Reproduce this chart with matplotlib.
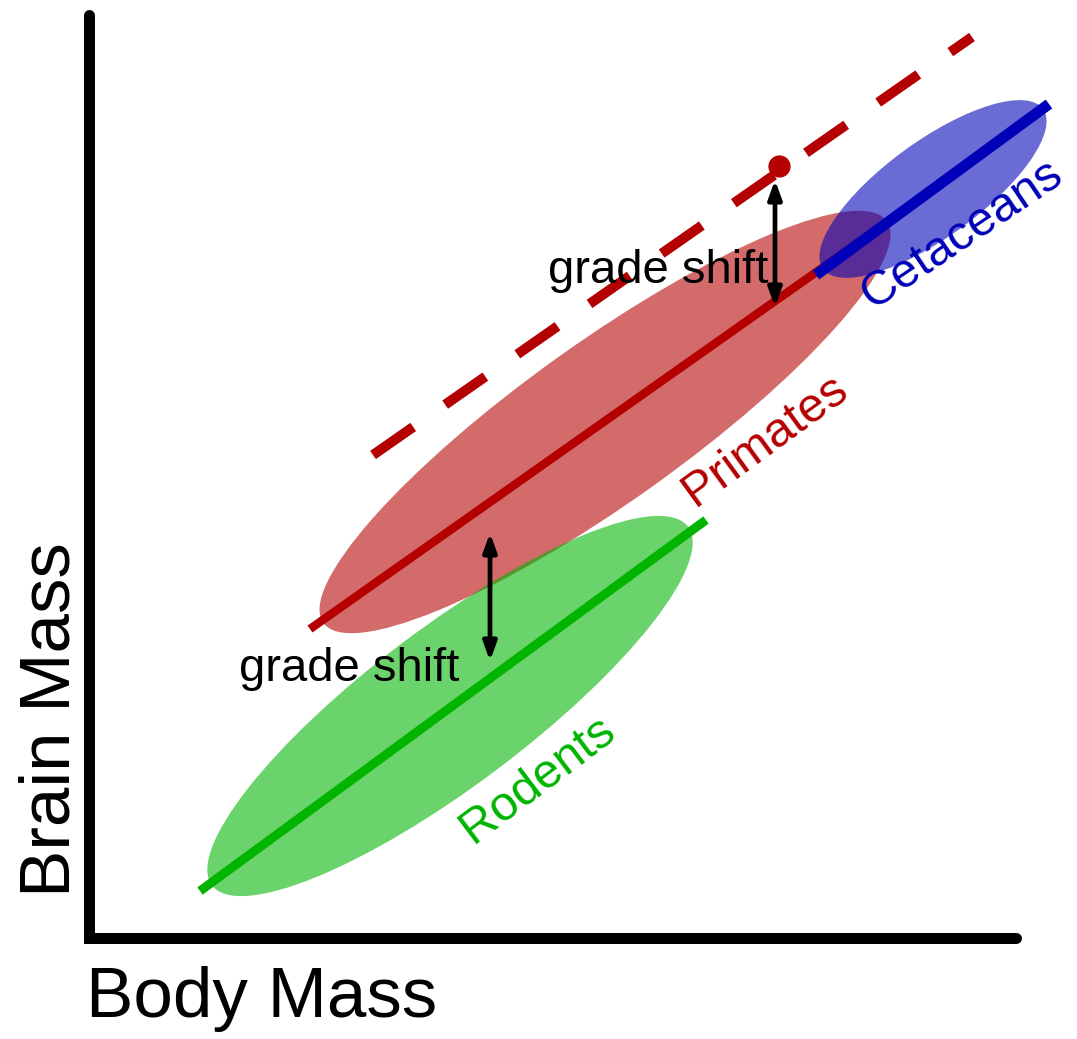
"""Schematic brain-mass vs body-mass allometry with grade shifts."""

import numpy as np
import matplotlib
matplotlib.use("Agg")
import matplotlib.pyplot as plt
from matplotlib.patches import Ellipse, FancyArrowPatch

plt.rcParams["font.family"] = ["Liberation Sans", "DejaVu Sans"]

# log body mass / log brain mass, arbitrary units (origin at axis corner)
GROUPS = ["Rodents", "Primates", "Cetaceans"]
COLORS = ["#00b400", "#b40000", "#0000b8"]

# regression line end points
FIT_X0 = [1.11, 2.21, 7.27]
FIT_X1 = [6.17, 8.11, 9.60]
FIT_Y0 = [0.465, 3.085, 6.625]
FIT_Y1 = [4.175, 7.245, 8.335]

# data clouds: centre, length, thickness, tilt (deg)
CLOUD_X = [3.61, 5.16, 8.44]
CLOUD_Y = [2.315, 5.155, 7.485]
CLOUD_LEN = [5.96, 6.92, 2.72]
CLOUD_THK = [1.58, 1.60, 0.96]
CLOUD_ANG = [37.0, 35.5, 36.0]

# group labels
LABEL_X = [4.485, 6.76, 8.73]
LABEL_Y = [1.575, 4.975, 7.025]
LABEL_ROT = [37, 36, 34]

# primate line extrapolated, and expected value at whale size
EXTRAP_X = [2.84, 8.83]
EXTRAP_Y = [4.825, 9.005]
EXPECT_X = 6.90
EXPECT_Y = 7.715

# grade shift arrows
SHIFT_X = [6.86, 4.01]
SHIFT_LO = [6.305, 2.765]
SHIFT_HI = [7.575, 4.045]
SHIFT_TXT_X = [4.59, 1.50]
SHIFT_TXT_Y = [6.545, 2.565]

W, H = 1077, 1039
fig = plt.figure(figsize=(W / 100, H / 100), dpi=100)
ax = fig.add_axes([0, 0, 1, 1])
ax.set_xlim(-0.89, (W - 89) / 100)
ax.set_ylim((937.5 - H) / 100, 9.375)
ax.axis("off")

# axes frame
ax.plot([0, 0, 9.265], [9.22, 0, 0], color="black", lw=7.9,
        solid_joinstyle="miter", solid_capstyle="round", zorder=8)

lw_fit = [6.5, 6.1, 7.9]
z_cloud = [2, 1, 4]
z_line = [3, 3, 5]
for i, g in enumerate(GROUPS):
    ax.add_patch(Ellipse((CLOUD_X[i], CLOUD_Y[i]), CLOUD_LEN[i], CLOUD_THK[i],
                         angle=CLOUD_ANG[i], facecolor=COLORS[i], alpha=0.58,
                         edgecolor="none", zorder=z_cloud[i]))
    ax.plot([FIT_X0[i], FIT_X1[i]], [FIT_Y0[i], FIT_Y1[i]], color=COLORS[i],
            lw=lw_fit[i], solid_capstyle="butt", zorder=z_line[i])
    ax.text(LABEL_X[i], LABEL_Y[i], g, color=COLORS[i], fontsize=35,
            rotation=LABEL_ROT[i], ha="center", va="center",
            rotation_mode="anchor", zorder=9)

# extrapolated primate line
ax.plot(EXTRAP_X, EXTRAP_Y, color=COLORS[1], lw=7.2,
        linestyle=(0, (4.9, 3.9)), dash_capstyle="butt", zorder=3)
ax.plot(EXPECT_X, EXPECT_Y, "o", color=COLORS[1], ms=16, mec="none", zorder=5)

for i in range(2):
    arr = FancyArrowPatch((SHIFT_X[i], SHIFT_LO[i]), (SHIFT_X[i], SHIFT_HI[i]),
                          arrowstyle="<|-|>,head_length=11,head_width=4",
                          mutation_scale=1, color="black", lw=3.4,
                          shrinkA=0, shrinkB=0, zorder=7)
    ax.add_patch(arr)
    ax.text(SHIFT_TXT_X[i], SHIFT_TXT_Y[i], "grade shift", fontsize=34,
            ha="left", va="baseline", zorder=9)

ax.text(-0.19, 2.175, "Brain Mass", fontsize=51, rotation=90,
        rotation_mode="anchor", ha="center", va="baseline")
ax.text(-0.025, -0.795, "Body Mass", fontsize=51, ha="left", va="baseline")

fig.savefig("out.png", dpi=100)
